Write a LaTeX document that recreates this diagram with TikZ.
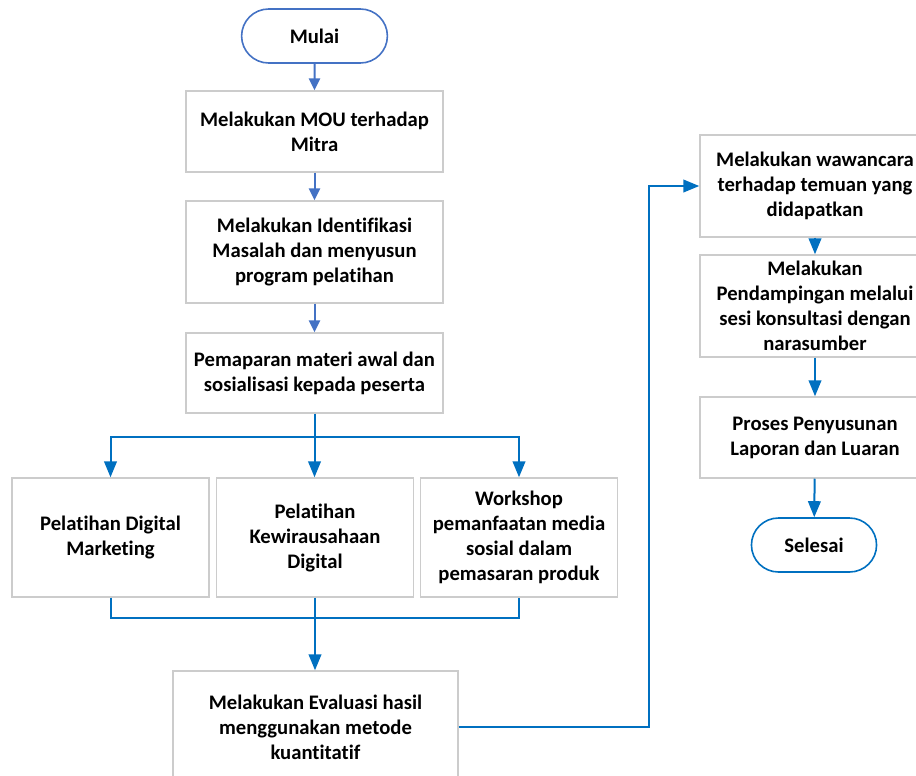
\documentclass[tikz,border=0pt]{standalone}
\usepackage{fontspec}
\setmainfont{Carlito}[Ligatures={NoCommon,NoContextual}]
\usetikzlibrary{arrows.meta,shapes.misc}

\definecolor{flowblue}{HTML}{0070C0}
\definecolor{startblue}{HTML}{4472C4}
\definecolor{boxgray}{HTML}{CCCCCC}

\begin{document}
\begin{tikzpicture}[x=0.75pt, y=-0.75pt,
font=\fontsize{15.5}{18.75}\selectfont\bfseries,
stepbox/.style={draw=boxgray, line width=1.1pt, fill=white, align=center, inner sep=2pt, minimum width=192.75pt},
terminal/.style={rounded rectangle, draw=startblue, line width=1.2pt, align=center, minimum width=116pt, minimum height=40.5pt},
link/.style={draw=flowblue, line width=1.5pt, -{Triangle[length=12pt,width=9.5pt]}},
toplink/.style={link, draw=startblue, -{Triangle[length=9pt,width=8.5pt]}}]

% Frame of the page
\useasboundingbox (0,0) rectangle (916,775);
\clip (0,0) rectangle (916,775);

% Left column
\node[terminal] (mulai) at (314.5,36) {Mulai};
\node[stepbox, minimum height=60.75pt] (mou) at (314.5,131.5) {Melakukan MOU terhadap\\Mitra};
\node[stepbox, minimum height=76.5pt] (identifikasi) at (314.5,252) {Melakukan Identifikasi\\Masalah dan menyusun\\program pelatihan};
\node[stepbox, minimum height=60pt] (pemaparan) at (314.5,373) {Pemaparan materi awal dan\\sosialisasi kepada peserta};

% Three trainings
\node[stepbox, minimum width=147.5pt, minimum height=89.25pt] (digital) at (110.5,537.5) {Pelatihan Digital\\Marketing};
\node[stepbox, minimum width=147.5pt, minimum height=89.25pt] (wirausaha) at (315,537.5) {Pelatihan\\Kewirausahaan\\Digital};
\node[stepbox, minimum width=147.5pt, minimum height=89.25pt] (workshop) at (519,537.5) {Workshop\\pemanfaatan media\\sosial dalam\\pemasaran produk};

\node[stepbox, minimum width=213.75pt, minimum height=84pt] (evaluasi) at (315.5,727) {Melakukan Evaluasi hasil\\menggunakan metode\\kuantitatif};

% Right column
\node[stepbox, minimum width=172.5pt, minimum height=76.5pt] (wawancara) at (815,186) {Melakukan wawancara\\terhadap temuan yang\\didapatkan};
\node[stepbox, minimum width=172.5pt, minimum height=76.5pt] (pendampingan) at (815,306) {Melakukan\\Pendampingan melalui\\sesi konsultasi dengan\\narasumber};
\node[stepbox, minimum width=172.5pt, minimum height=60.75pt] (penyusunan) at (815,437.5) {Proses Penyusunan\\Laporan dan Luaran};
\node[terminal, draw=flowblue, minimum width=100.5pt] (selesai) at (814,545) {Selesai};

% Connectors
\draw[toplink] (mulai) -- (mou);
\draw[toplink] (mou) -- (identifikasi);
\draw[toplink] (identifikasi) -- (pemaparan);

\coordinate (split) at (315,437);
\draw[link] (pemaparan.south) -- (pemaparan.south |- wirausaha.north);
\draw[link] (split) -| (digital);
\draw[link] (split) -| (workshop);

\coordinate (merge) at (315,618);
\draw[link, -] (digital) |- (merge) -| (workshop);
\draw[link] (wirausaha.south) -- (wirausaha.south |- evaluasi.north);

\coordinate (bend) at (649,186);
\draw[link] (evaluasi) -| (bend) -- (wawancara); % back to the top
\draw[link] (wawancara) -- (pendampingan);
\draw[link] (pendampingan) -- (penyusunan);
\draw[link] (penyusunan) -- (selesai);

\end{tikzpicture}
\end{document}
